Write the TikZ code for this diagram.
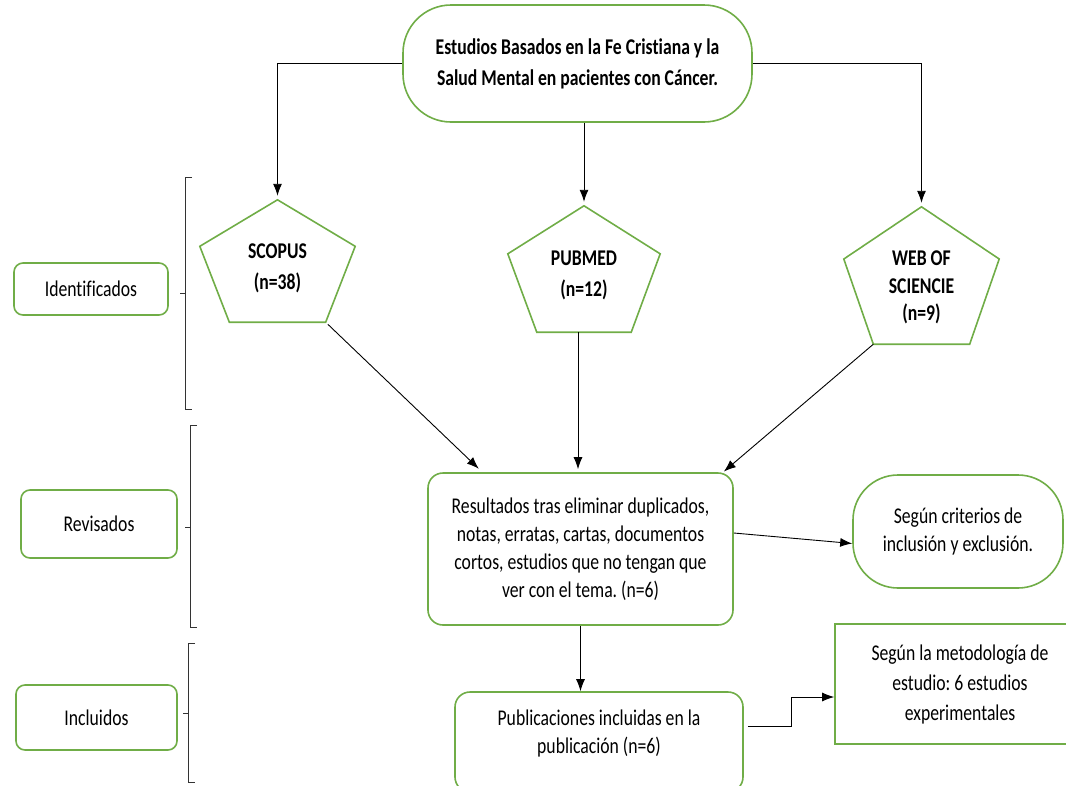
\documentclass[tikz,border=0pt]{standalone}
\usepackage{xcolor}
\usepackage{fontspec}
\setmainfont{Carlito}[FakeStretch=0.785, Ligatures={NoCommon}]
\usetikzlibrary{positioning,calc,arrows.meta}

\definecolor{boxgreen}{RGB}{112,173,71}
\newcommand{\plainsize}{\fontsize{22.5}{28}\selectfont}
\newcommand{\boldsize}{\fontsize{22.5}{31}\selectfont\bfseries}
\frenchspacing

\tikzset{
    greenbox/.style={draw=boxgreen, line width=1.6pt, rounded corners=15pt, align=center, inner sep=0pt, font=\plainsize},
    sharpbox/.style={draw=boxgreen, line width=1.6pt, align=center, inner sep=0pt, font=\plainsize},
    sidebox/.style={draw=boxgreen, line width=1.6pt, rounded corners=9pt, inner sep=0pt, font=\plainsize},
    pentabox/.style={inner sep=0pt, align=center, font=\boldsize},
    pentaline/.style={draw=boxgreen, line width=1.6pt, line join=miter},
    arrowline/.style={draw=black, line width=0.9pt, -{Latex[length=12pt, width=9pt]}},
    bracketline/.style={draw=black!80, line width=0.9pt}
}

\begin{document}
\begin{tikzpicture}[x=1pt, y=-1pt]
    \useasboundingbox (0, 0) rectangle (1066, 785);

    % top title
    \node (estudios) at (577.5, 63.5) [greenbox, rounded corners=48pt, minimum width=349pt, minimum height=117pt, font=\boldsize] {Estudios Basados en la Fe Cristiana y la\\Salud Mental en pacientes con Cáncer.};

    % data bases
    \node (scopus) at (277.5, 261) [pentabox, minimum width=155pt, minimum height=122pt] {\rule{0pt}{30pt}SCOPUS\\(n=38)};
    \node (pubmed) at (584, 269) [pentabox, minimum width=152pt, minimum height=126pt] {\rule{0pt}{27pt}PUBMED\\(n=12)};
    \node (wos) at (921.5, 275.5) [pentabox, minimum width=155pt, minimum height=137pt, font=\fontsize{22.5}{27.5}\selectfont\bfseries] {\rule{0pt}{39pt}WEB OF\\SCIENCIE\\(n=9)};

    \foreach \p in {scopus, pubmed, wos} {
        \coordinate (\p-bl) at ($(\p.south west)!0.19!(\p.south east)$);
        \coordinate (\p-br) at ($(\p.south west)!0.81!(\p.south east)$);
        \draw[pentaline] (\p.north) -- ($(\p.north west)!0.38!(\p.south west)$) -- (\p-bl) -- (\p-br) -- ($(\p.north east)!0.38!(\p.south east)$) -- cycle;
    }

    % main boxes
    \node (resultados) at (580.5, 549) [greenbox, minimum width=305pt, minimum height=152pt] {Resultados tras eliminar duplicados,\\notas, erratas, cartas, documentos\\cortos, estudios que no tengan que\\ver con el tema. (n=6)};
    \node (criterios) at (958, 531.5) [greenbox, rounded corners=45pt, minimum width=210pt, minimum height=113pt] {Según criterios de\\inclusión y exclusión.};
    \node (publicaciones) at (599, 742) [greenbox, minimum width=288pt, minimum height=100pt] {Publicaciones incluidas en la\\publicación (n=6)\\[-16pt]\strut};
    \node (metodologia) at (960, 684) [sharpbox, minimum width=250pt, minimum height=120pt, font=\fontsize{22.5}{30}\selectfont] {Según la metodología de\\estudio: 6 estudios\\experimentales};

    % stage labels
    \node (identificados) at (91, 289) [sidebox, minimum width=154pt, minimum height=52pt] {Identificados};
    \node (revisados) at (99, 524) [sidebox, minimum width=156pt, minimum height=68pt] {Revisados};
    \node (incluidos) at (96.5, 717.5) [sidebox, minimum width=161pt, minimum height=65pt] {Incluidos};

    \foreach \xx/\tp/\md/\bt in {185/177/293/409, 190/425/527/627, 188/643/713/782}
        \draw[bracketline] ({\xx+7}, \tp) -- (\xx, \tp) -- (\xx, \bt) -- ({\xx+7}, \bt) (\xx, \md) -- ({\xx-5}, \md);

    % connectors
    \draw[arrowline, shorten >=4pt] (estudios.west) -| (scopus.north);
    \draw[arrowline, shorten >=4pt] (pubmed.north |- estudios.south) -- (pubmed.north);
    \draw[arrowline, shorten >=4pt] (estudios.east) -| (wos.north);

    \draw[arrowline, shorten >=5pt, shorten <=3pt] (scopus-br) -- ($(resultados.north west)!0.18!(resultados.north east)$);
    \draw[arrowline, shorten >=3pt] (pubmed.south -| 578, 0) -- (578, 0 |- resultados.north);
    \draw[arrowline, shorten >=1pt] (wos-bl) -- ($(resultados.north west)!0.965!(resultados.north east)$);

    \draw[arrowline] ($(resultados.east)+(0, -16)$) -- ($(criterios.west)+(0, 12)$);
    \draw[arrowline] (resultados.south) -- (resultados.south |- publicaciones.north);
    \draw[arrowline] ($(publicaciones.east)+(4, -16)$) -- ++(44, 0) |- ($(metodologia.west)+(0, 13)$);
\end{tikzpicture}
\end{document}
